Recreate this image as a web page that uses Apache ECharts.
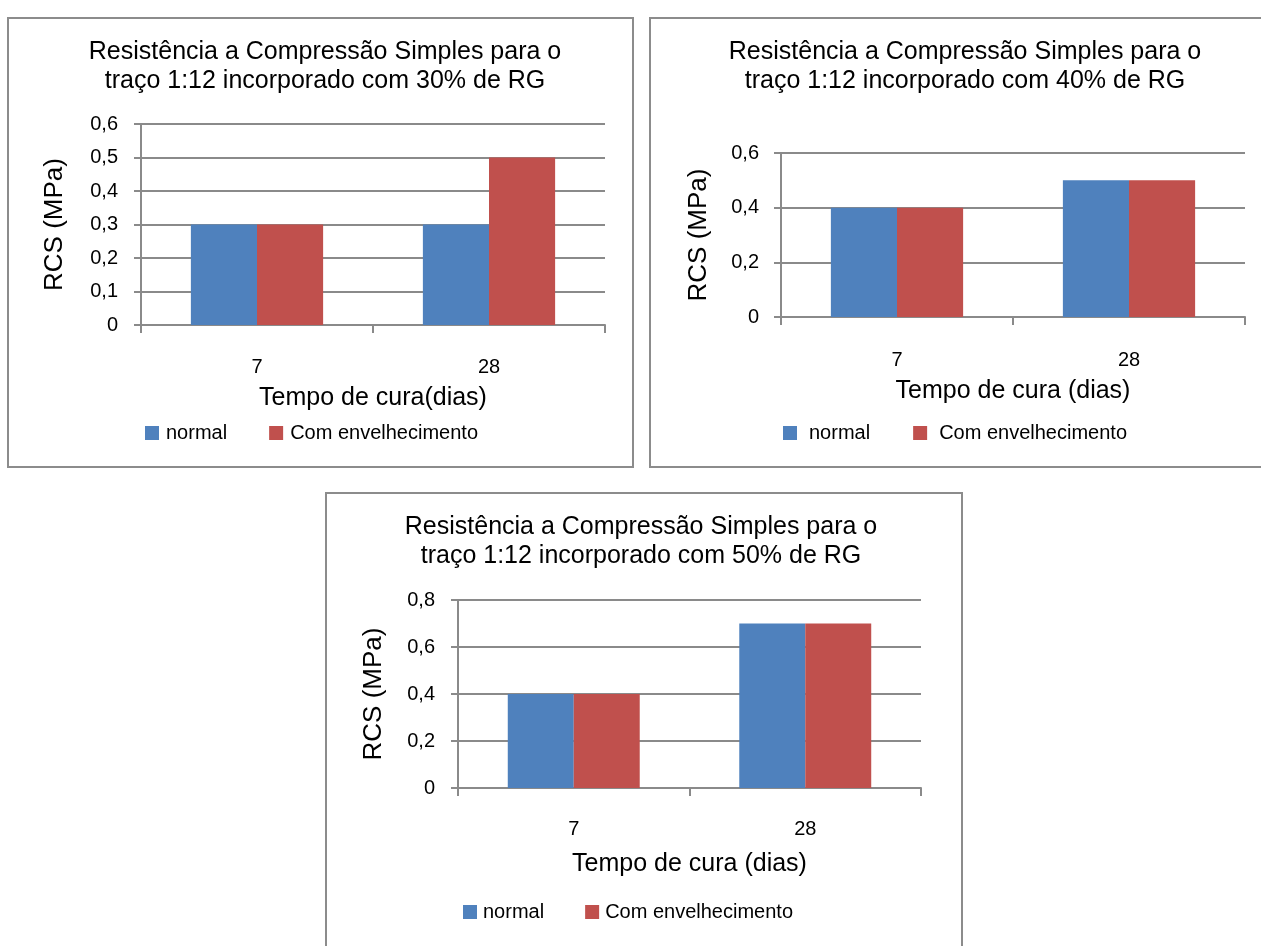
<!DOCTYPE html>
<html>
<head>
<meta charset="utf-8">
<script src="https://cdn.jsdelivr.net/npm/echarts@6/dist/echarts.min.js"></script>
<style>
  html, body { margin: 0; padding: 0; background: #ffffff; width: 1261px; height: 946px; overflow: hidden; position: relative; }
  .panel { position: absolute; box-sizing: border-box; border: 2px solid #8c8c8c; background: #fff; }
</style>
</head>
<body>
<div id="c1" class="panel" style="left:7px;top:17px;width:627px;height:451px;"></div>
<div id="c2" class="panel" style="left:649px;top:17px;width:620px;height:451px;"></div>
<div id="c3" class="panel" style="left:325px;top:492px;width:638px;height:470px;"></div>
<script>
// Curing times (days) on the category axis
const categories = ['7', '28'];
const seriesNames = ['normal', 'Com envelhecimento'];

// RCS (MPa) values for each mix
const normal30 = [0.3, 0.3];
const aged30   = [0.3, 0.5];
const normal40 = [0.4, 0.5];
const aged40   = [0.4, 0.5];
const normal50 = [0.4, 0.7];
const aged50   = [0.4, 0.7];

const titles = [
  'Resistência a Compressão Simples para o\ntraço 1:12 incorporado com 30% de RG',
  'Resistência a Compressão Simples para o\ntraço 1:12 incorporado com 40% de RG',
  'Resistência a Compressão Simples para o\ntraço 1:12 incorporado com 50% de RG'
];
const xNames = ['Tempo de cura(dias)', 'Tempo de cura (dias)', 'Tempo de cura (dias)'];
const yName = 'RCS (MPa)';

const BLUE = '#4f81bd';
const RED = '#c0504d';
const GRID = '#8a8a8a';
const FONT = '"Liberation Sans", Arial, sans-serif';

function build(cfg) {
  return {
    animation: false,
    textStyle: { fontFamily: FONT },
    title: {
      text: cfg.title,
      left: cfg.titleX,
      top: cfg.titleTop,
      textAlign: 'center',
      textStyle: { fontFamily: FONT, fontSize: 25, fontWeight: 'normal', color: '#000', lineHeight: 29 }
    },
    legend: {
      data: seriesNames,
      left: cfg.legendLeft,
      top: cfg.legendTop,
      icon: 'rect',
      itemWidth: 14,
      itemHeight: 14,
      itemGap: cfg.legendGap,
      textStyle: { fontFamily: FONT, fontSize: 20, color: '#000', padding: [0, 0, 0, cfg.legendPad] }
    },
    grid: { left: cfg.grid[0], top: cfg.grid[1], width: cfg.grid[2], height: cfg.grid[3], containLabel: false },
    xAxis: {
      type: 'category',
      data: categories,
      name: cfg.xName,
      nameLocation: 'middle',
      nameGap: cfg.xNameGap,
      nameTextStyle: { fontFamily: FONT, fontSize: 25, color: '#000' },
      axisLine: { lineStyle: { color: GRID, width: 2 } },
      axisTick: { show: true, alignWithLabel: false, length: 8, lineStyle: { color: GRID, width: 2 } },
      axisLabel: { fontFamily: FONT, fontSize: 20, color: '#000', margin: cfg.xLabelMargin }
    },
    yAxis: {
      type: 'value',
      min: 0,
      max: cfg.max,
      interval: cfg.interval,
      name: yName,
      nameLocation: 'middle',
      nameGap: cfg.yNameGap,
      nameRotate: 90,
      nameTextStyle: { fontFamily: FONT, fontSize: 26, color: '#000' },
      axisLine: { show: true, lineStyle: { color: GRID, width: 2 } },
      axisTick: { show: true, inside: false, length: 7, lineStyle: { color: GRID, width: 2 } },
      splitLine: { show: true, lineStyle: { color: GRID, width: 2 } },
      axisLabel: {
        fontFamily: FONT, fontSize: 20, color: '#000', margin: cfg.yLabelMargin,
        formatter: v => (v === 0 ? '0' : v.toFixed(1).replace('.', ','))
      }
    },
    series: [
      { name: seriesNames[0], type: 'bar', data: cfg.a, itemStyle: { color: BLUE }, barGap: '0%', barCategoryGap: '43%' },
      { name: seriesNames[1], type: 'bar', data: cfg.b, itemStyle: { color: RED }, barGap: '0%', barCategoryGap: '43%' }
    ]
  };
}

const panels = [
  { id: 'c1', title: titles[0], titleX: 311, titleTop: 14, grid: [132, 105, 464, 201],
    max: 0.6, interval: 0.1, a: normal30, b: aged30, xName: xNames[0],
    xNameGap: 61, xLabelMargin: 32, yNameGap: 73, yLabelMargin: 23,
    legendLeft: 131, legendTop: 399, legendGap: 42, legendPad: 2 },
  { id: 'c2', title: titles[1], titleX: 309, titleTop: 14, grid: [130, 134, 464, 164],
    max: 0.6, interval: 0.2, a: normal40, b: aged40, xName: xNames[1],
    xNameGap: 62, xLabelMargin: 33, yNameGap: 69, yLabelMargin: 22,
    legendLeft: 127, legendTop: 399, legendGap: 43, legendPad: 7 },
  { id: 'c3', title: titles[2], titleX: 309, titleTop: 14, grid: [131, 106, 463, 188],
    max: 0.8, interval: 0.2, a: normal50, b: aged50, xName: xNames[2],
    xNameGap: 64, xLabelMargin: 31, yNameGap: 71, yLabelMargin: 23,
    legendLeft: 131, legendTop: 403, legendGap: 41, legendPad: 1 }
];

panels.forEach(p => {
  const chart = echarts.init(document.getElementById(p.id), null, { renderer: 'canvas' });
  chart.setOption(build(p));
});
</script>
</body>
</html>
